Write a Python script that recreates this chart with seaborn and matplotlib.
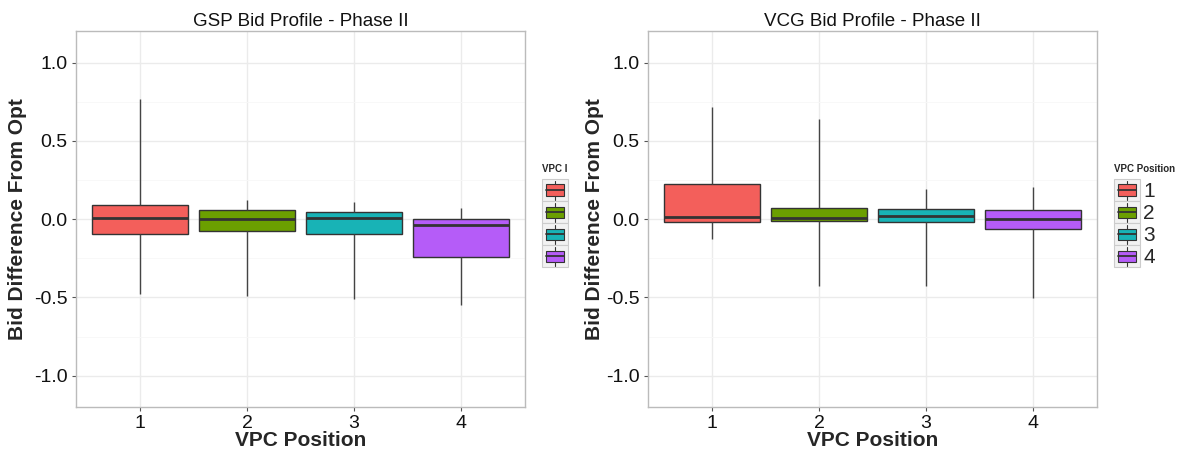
import pandas as pd
import seaborn as sns
import matplotlib.pyplot as plt
import matplotlib.patches as mpatches
import matplotlib.lines as mlines
from matplotlib.legend_handler import HandlerBase
import numpy as np

# Five-number summaries: whisker low, Q1, median, Q3, whisker high
positions = ['1', '2', '3', '4']
gsp_low = [-0.48, -0.49, -0.51, -0.55]
gsp_q1 = [-0.093, -0.078, -0.095, -0.242]
gsp_med = [0.006, 0.0, 0.008, -0.036]
gsp_q3 = [0.091, 0.059, 0.049, 0.002]
gsp_high = [0.77, 0.121, 0.108, 0.072]

vcg_low = [-0.125, -0.428, -0.424, -0.504]
vcg_q1 = [-0.015, -0.013, -0.015, -0.064]
vcg_med = [0.017, 0.008, 0.021, 0.004]
vcg_q3 = [0.222, 0.072, 0.066, 0.061]
vcg_high = [0.718, 0.642, 0.191, 0.208]

colors = ['#F35F5B', '#6B9F00', '#18B3B6', '#B55CF8']


def make_frame(low, q1, med, q3, high):
    rows = []
    for i, p in enumerate(positions):
        for v in [low[i], q1[i], med[i], q3[i], high[i]]:
            rows.append({'VPC Position': p, 'value': v})
    return pd.DataFrame(rows)


df_gsp = make_frame(gsp_low, gsp_q1, gsp_med, gsp_q3, gsp_high)
df_vcg = make_frame(vcg_low, vcg_q1, vcg_med, vcg_q3, vcg_high)


# ggplot-like legend key: grey key square with a small boxplot glyph
class BoxKey(HandlerBase):
    def create_artists(self, legend, orig_handle, xdescent, ydescent,
                       width, height, fontsize, trans):
        fc = orig_handle.get_facecolor()
        bg = mpatches.Rectangle((-xdescent, -ydescent), width, height,
                                facecolor='#F2F2F2', edgecolor='#CCCCCC',
                                linewidth=0.8, transform=trans)
        bw, bh = width * 0.72, height * 0.52
        bx = -xdescent + (width - bw) / 2
        by = -ydescent + (height - bh) / 2
        box = mpatches.Rectangle((bx, by), bw, bh, facecolor=fc,
                                 edgecolor='#333333', linewidth=0.8, transform=trans)
        cx = -xdescent + width / 2
        cy = -ydescent + height / 2
        med = mlines.Line2D([bx, bx + bw], [cy, cy], color='#333333',
                            linewidth=1.3, transform=trans)
        w1 = mlines.Line2D([cx, cx], [-ydescent + 1, by], color='#333333',
                           linewidth=0.8, transform=trans)
        w2 = mlines.Line2D([cx, cx], [by + bh, -ydescent + height - 1], color='#333333',
                           linewidth=0.8, transform=trans)
        return [bg, box, med, w1, w2]


sns.set_style('white')
plt.rcParams['font.family'] = ['Liberation Sans', 'DejaVu Sans']

fig = plt.figure(figsize=(11.88, 4.58), dpi=100)
ax1 = fig.add_axes([0.0637, 0.1114, 0.3785, 0.8199])
ax2 = fig.add_axes([0.5452, 0.1114, 0.3785, 0.8199])


def draw_panel(ax, df, title, legend_title, legend_labels, ylabel_x):
    sns.boxplot(data=df, x='VPC Position', y='value', hue='VPC Position',
                palette=colors, saturation=1, width=0.9, whis=(0, 100),
                showcaps=False, linecolor='#333333', linewidth=1.0, ax=ax,
                legend=False,
                medianprops=dict(linewidth=2.0, color='#333333'),
                whiskerprops=dict(linewidth=1.0, color='#444444'))
    ax.set_ylim(-1.2, 1.2)
    ax.set_xlim(-0.6, 3.6)
    ax.set_yticks([-1.0, -0.5, 0.0, 0.5, 1.0])
    ax.set_yticklabels(['-1.0', '-0.5', '0.0', '0.5', '1.0'])
    ax.set_yticks([-0.75, -0.25, 0.25, 0.75], minor=True)
    ax.grid(True, which='major', color='#EBEBEB', linewidth=1.0)
    ax.grid(True, which='minor', axis='y', color='#F7F7F7', linewidth=0.6)
    ax.set_axisbelow(True)
    for s in ax.spines.values():
        s.set_color('#BBBBBB')
        s.set_linewidth(1.0)
    ax.tick_params(axis='both', which='major', labelsize=14, length=3,
                   color='#555555', labelcolor='#111111', direction='out',
                   bottom=True, left=True)
    ax.tick_params(axis='y', which='major', pad=3)
    ax.tick_params(axis='x', which='major', pad=3)
    ax.tick_params(axis='both', which='minor', length=0)
    ax.set_title(title, fontsize=13.5, pad=4, color='#111111')
    ax.set_xlabel('VPC Position', fontsize=15, fontweight='bold', labelpad=-1)
    ax.set_ylabel('Bid Difference From Opt', fontsize=15, fontweight='bold')
    ax.yaxis.set_label_coords(ylabel_x, 0.5)

    handles = [mpatches.Patch(facecolor=c) for c in colors]
    leg = ax.legend(handles, legend_labels, title=legend_title,
                    handler_map={mpatches.Patch: BoxKey()},
                    loc='upper left', bbox_to_anchor=(1.037, 0.648),
                    frameon=False, fontsize=15, title_fontsize=7,
                    handlelength=1.25, handleheight=1.25, handletextpad=0.15,
                    labelspacing=0.0, borderaxespad=0, borderpad=0)
    leg.get_title().set_fontweight('bold')
    leg._legend_box.align = 'left'
    leg._legend_box.sep = 4


draw_panel(ax1, df_gsp, 'GSP Bid Profile - Phase II', 'VPC I', ['', '', '', ''], -0.108)
draw_panel(ax2, df_vcg, 'VCG Bid Profile - Phase II', 'VPC Position', positions, -0.097)

fig.savefig('out.png', dpi=100)
